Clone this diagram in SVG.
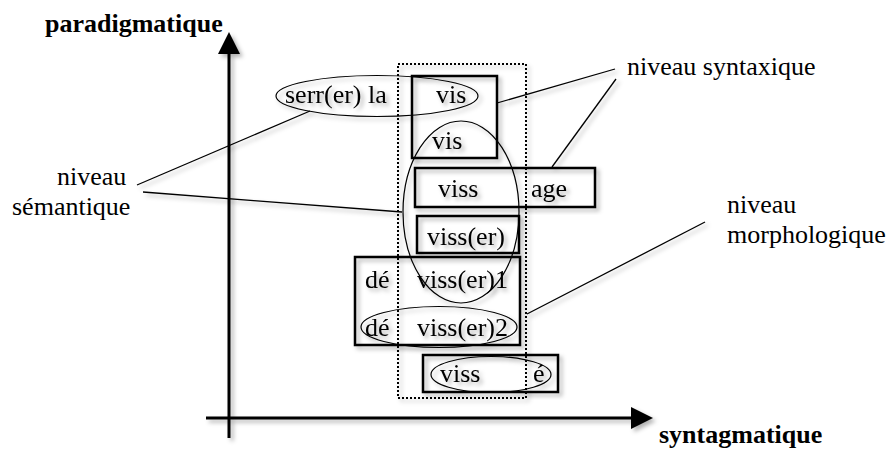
<svg xmlns="http://www.w3.org/2000/svg" width="892" height="454" viewBox="0 0 892 454" font-family="'Liberation Serif', 'Times New Roman', 'DejaVu Serif', serif">
<defs>
<filter id="sh" x="-20%" y="-20%" width="140%" height="140%">
<feDropShadow dx="3" dy="3" stdDeviation="2" flood-color="#000" flood-opacity="0.3"/>
</filter>
</defs>
<style>
text{font-size:26px;fill:#000}
.b{font-weight:bold}
.box{fill:none;stroke:#000;stroke-width:2.5}
.ell{fill:none;stroke:#000;stroke-width:1.2}
.ln{fill:none;stroke:#000;stroke-width:1.3}
.dot{fill:none;stroke:#000;stroke-width:2;stroke-dasharray:2 2}
.ax{fill:none;stroke:#000;stroke-width:3}
</style>
<rect width="892" height="454" fill="#fff"/>
<g id="axes" filter="url(#sh)">
<line class="ax" x1="229" y1="438" x2="229" y2="50"/>
<polygon points="229,32 218,54 240,54" fill="#000"/>
<line class="ax" x1="206" y1="418" x2="635" y2="418"/>
<polygon points="653,418 631,407 631,429" fill="#000"/>
</g>
<text class="b" x="45" y="32">paradigmatique</text>
<text class="b" x="659" y="443">syntagmatique</text>
<g id="connectors" filter="url(#sh)">
<line class="ln" x1="137" y1="185" x2="310" y2="111"/>
<line class="ln" x1="143" y1="192" x2="402" y2="212"/>
<line class="ln" x1="497" y1="103" x2="615" y2="69"/>
<line class="ln" x1="552" y1="167" x2="616" y2="79"/>
<line class="ln" x1="527" y1="314" x2="705" y2="222"/>
</g>
<g id="paradigm-column" filter="url(#sh)">
<rect class="dot" x="398" y="64" width="128" height="334"/>
</g>
<g id="box-vis" filter="url(#sh)">
<rect class="box" x="412" y="76" width="85" height="82"/>
<text x="436" y="103">vis</text>
<text x="432" y="149">vis</text>
</g>
<g id="ellipse-serr" filter="url(#sh)">
<ellipse class="ell" cx="377" cy="96" rx="101" ry="20.5"/>
<text x="285" y="103">serr(er) la</text>
</g>
<g id="box-vissage" filter="url(#sh)">
<rect class="box" x="415" y="168" width="180" height="39"/>
<text x="438" y="197">viss</text>
<text x="531" y="197">age</text>
</g>
<g id="box-visser" filter="url(#sh)">
<rect class="box" x="417" y="216" width="102" height="37"/>
<text x="427" y="245">viss(er)</text>
</g>
<g id="ellipse-semantic" filter="url(#sh)">
<ellipse class="ell" cx="461" cy="212" rx="58" ry="91"/>
</g>
<g id="box-devisser" filter="url(#sh)">
<rect class="box" x="355" y="257" width="165" height="88"/>
<text x="365" y="288">dé</text>
<text x="417" y="288">viss(er)1</text>
<text x="365" y="336">dé</text>
<text x="417" y="336">viss(er)2</text>
</g>
<g id="ellipse-devisser2" filter="url(#sh)">
<ellipse class="ell" cx="439" cy="327" rx="78" ry="20.5"/>
</g>
<g id="box-visse" filter="url(#sh)">
<rect class="box" x="423" y="355" width="135" height="37"/>
<ellipse class="ell" cx="491" cy="374.5" rx="60" ry="18"/>
<text x="440" y="382">viss</text>
<text x="533" y="382">é</text>
</g>
<g id="label-semantique">
<text x="57" y="185">niveau</text>
<text x="12" y="215">sémantique</text>
</g>
<g id="label-syntaxique">
<text x="627" y="75">niveau syntaxique</text>
</g>
<g id="label-morphologique">
<text x="727" y="213">niveau</text>
<text x="727" y="243">morphologique</text>
</g>
</svg>
